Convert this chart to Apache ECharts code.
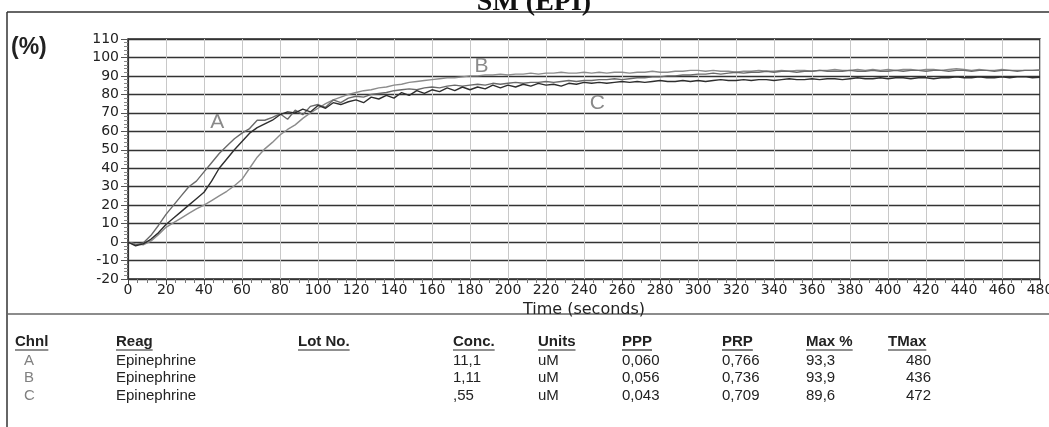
<!DOCTYPE html>
<html><head><meta charset="utf-8">
<script src="https://cdn.jsdelivr.net/npm/echarts@6/dist/echarts.min.js"></script>
<style>html,body{margin:0;padding:0;background:#fff}#c{width:1049px;height:427px}</style>
</head><body><div id="c"></div>
<script>
// ---- data ----
const chartTitle = 'SM (EPI)';
const yUnitLabel = '(%)';
const xAxisTitle = 'Time (seconds)';
const sampleStep = 4; // seconds between samples (t = 0, 4, 8 ... 480)

const chA = [
  0, -1.5, -0.5, 3.5, 9, 15, 20, 25, 30, 33,
  38, 43, 48, 52, 56, 59, 61.5, 66, 66, 67.5,
  69.5, 66.5, 71.5, 69, 73.5, 74.5, 73, 77, 75.5, 78,
  79, 78.5, 80, 80.5, 81, 82, 82.5, 83, 82.5, 83.5,
  84, 83.5, 84.5, 85, 84.5, 85, 85.5, 85, 86, 85.5,
  86, 86.5, 86, 86.5, 86.5, 87, 86.5, 87, 87.5, 87,
  87.5, 87.5, 88, 88, 88.5, 88, 88.5, 89, 89, 89.5,
  89.5, 90, 90, 90.5, 90.5, 91, 91, 91.5, 91, 91.5,
  92, 91.5, 92, 92, 92.5, 92, 92.5, 92.5, 92, 92.5,
  92.5, 93, 92.5, 92.5, 92.5, 93, 92.5, 92.5, 93, 92.5,
  92.5, 93, 92.5, 93, 93, 92.5, 93, 93, 92.5, 93,
  93, 92.5, 93, 93, 92.5, 93, 93, 92.5, 93, 93,
  93.3
];
const chB = [
  0, -1, -1.5, 0.5, 4, 8, 10.5, 13, 15.5, 18,
  20, 22.5, 25, 27.5, 30.5, 34, 40, 46, 50.5, 54,
  58, 61, 63.5, 67, 70, 72.5, 75, 77, 78.5, 80,
  81, 82, 82.5, 83.5, 84, 85, 85.5, 86.5, 87, 87.5,
  88, 88.5, 89, 89, 89.5, 90, 90, 90.5, 90.5, 91,
  90.5, 91, 91, 91.5, 91, 91.5, 91.5, 92, 91.5, 91.5,
  92, 91.5, 92, 91.5, 92, 92, 91.5, 92, 92, 92.5,
  92, 92, 92.5, 92.5, 93, 93, 92.5, 93, 92.5, 92.5,
  92, 92.5, 92.5, 93, 92.5, 92.5, 93, 92.5, 93, 93,
  92.5, 93, 93, 93.5, 93, 93, 93.5, 93, 93.5, 93,
  93.5, 93, 93.5, 93.5, 93, 93.5, 93.5, 93, 93.5, 93.9,
  93.5, 93, 93.5, 93, 93, 93.5, 93, 93, 93, 93,
  93
];
const chC = [
  0, -2, -1, 1.5, 5, 9.5, 13, 16.5, 20, 23.5,
  27, 33, 40, 45, 50, 54.5, 59, 62, 64, 66,
  69, 70.5, 70, 72, 70.5, 74, 72.5, 75.5, 74.5, 76,
  77, 75.5, 78.5, 77.5, 79.5, 78, 81, 79.5, 82, 80.5,
  82.5, 81.5, 83.5, 82, 84, 82.5, 84, 83, 85, 83.5,
  85, 84, 85.5, 84.5, 86, 85, 85.5, 84.5, 86, 85.5,
  86.5, 86, 86.5, 86, 86.5, 87, 86.5, 87, 86.5, 87,
  87.5, 87, 87, 87.5, 87, 87.5, 87, 87.5, 88, 87.5,
  87.5, 88, 87.5, 88, 88, 87.5, 88, 88.5, 88, 88,
  88.5, 88, 88.5, 88.5, 88, 88.5, 89, 88.5, 88.5, 89,
  88.5, 89, 89, 88.5, 89, 89, 88.5, 89, 89, 89.5,
  89, 89, 89.5, 89, 89, 89.5, 89, 89.5, 89.6, 89,
  89.3
];
// curve letter annotations: [time, percent]
const curveLabelAt = { A: [47, 65], B: [186, 95.3], C: [247, 75.3] };

// table
const tableHeaders = ['Chnl', 'Reag', 'Lot No.', 'Conc.', 'Units', 'PPP', 'PRP', 'Max %', 'TMax'];
const chnl = ['A', 'B', 'C'];
const reag = ['Epinephrine', 'Epinephrine', 'Epinephrine'];
const lotNo = ['', '', ''];
const conc = ['11,1', '1,11', ',55'];
const units = ['uM', 'uM', 'uM'];
const ppp = ['0,060', '0,056', '0,043'];
const prp = ['0,766', '0,736', '0,709'];
const maxPct = ['93,3', '93,9', '89,6'];
const tMax = ['480', '436', '472'];

// ---- build ----
const toPairs = arr => arr.map((v, i) => [i * sampleStep, v]);
const colA = '#6a6a6a', colB = '#8c8c8c', colC = '#2e2e2e';

const measure = (() => {
  const c = document.createElement('canvas').getContext('2d');
  return (txt, font) => { c.font = font; return c.measureText(txt).width; };
})();

const graphics = [];
graphics.push({ type: 'line', shape: { x1: 7, y1: 12, x2: 1049, y2: 12 }, style: { stroke: '#333', lineWidth: 1.5 } });
graphics.push({ type: 'line', shape: { x1: 7, y1: 12, x2: 7, y2: 427 }, style: { stroke: '#333', lineWidth: 1.5 } });
graphics.push({ type: 'line', shape: { x1: 7, y1: 314, x2: 1049, y2: 314 }, style: { stroke: '#666', lineWidth: 1.5 } });
graphics.push({ type: 'text', style: { text: chartTitle, x: 534, y: 17, align: 'center', verticalAlign: 'bottom',
  font: 'bold 28px "Liberation Serif"', fill: '#111' } });
graphics.push({ type: 'text', style: { text: yUnitLabel, x: 11, y: 48, align: 'left', verticalAlign: 'middle',
  font: 'bold 23px "Liberation Sans"', fill: '#222' } });

const colX = [15, 116, 298, 453, 538, 622, 722, 806, 888];
const headerY = 342;
const rowY = [361, 378, 396];
const hFont = 'bold 15px "Liberation Sans"';
const rFont = '15px "Liberation Sans"';
tableHeaders.forEach((h, i) => {
  graphics.push({ type: 'text', style: { text: h, x: colX[i], y: headerY, verticalAlign: 'middle', font: hFont, fill: '#222' } });
  const w = measure(h, hFont);
  graphics.push({ type: 'line', shape: { x1: colX[i], y1: headerY + 8, x2: colX[i] + w, y2: headerY + 8 }, style: { stroke: '#222', lineWidth: 1.2 } });
});
const tmaxRight = 931;
for (let r = 0; r < chnl.length; r++) {
  const y = rowY[r];
  const cells = [
    [chnl[r], 24, 'left', '#808080'],
    [reag[r], colX[1], 'left', '#222'],
    [lotNo[r], colX[2], 'left', '#222'],
    [conc[r], colX[3], 'left', '#222'],
    [units[r], colX[4], 'left', '#222'],
    [ppp[r], colX[5], 'left', '#222'],
    [prp[r], colX[6], 'left', '#222'],
    [maxPct[r], colX[7], 'left', '#222'],
    [tMax[r], tmaxRight, 'right', '#222']
  ];
  cells.forEach(([t, x, al, col]) => {
    if (!t) return;
    graphics.push({ type: 'text', style: { text: t, x: x, y: y, align: al, verticalAlign: 'middle', font: rFont, fill: col } });
  });
}

const mkLabel = (name) => ({
  symbol: 'circle', symbolSize: 1, silent: true,
  itemStyle: { color: 'rgba(0,0,0,0)' },
  label: { show: true, position: 'inside', formatter: name, color: '#8a8a8a', fontSize: 21, fontFamily: 'Liberation Sans' },
  data: [{ coord: curveLabelAt[name] }]
});

const option = {
  animation: false,
  backgroundColor: '#fff',
  grid: { left: 128, right: 9, top: 39, bottom: 148, show: true, borderColor: '#2a2a2a', borderWidth: 1.5,
          containLabel: false, outerBoundsMode: 'none' },
  xAxis: {
    type: 'value', min: 0, max: 480, interval: 20,
    name: xAxisTitle, nameLocation: 'middle', nameGap: 13,
    nameTextStyle: { fontSize: 16, color: '#222', fontFamily: 'DejaVu Sans' },
    axisLine: { show: true, onZero: false, lineStyle: { color: '#333', width: 1.2 } },
    axisTick: { show: true, length: 6, lineStyle: { color: '#444' } },
    minorTick: { show: true, splitNumber: 4, length: 4, lineStyle: { color: '#777' } },
    splitLine: { show: true, lineStyle: { color: '#c8c8c8', width: 1 } },
    axisLabel: { fontSize: 14, color: '#222', margin: 4, fontFamily: 'DejaVu Sans' }
  },
  yAxis: {
    type: 'value', min: -20, max: 110, interval: 10,
    axisLine: { show: true, lineStyle: { color: '#333', width: 1.2 } },
    axisTick: { show: true, length: 7, lineStyle: { color: '#555' } },
    minorTick: { show: true, splitNumber: 5, length: 4, lineStyle: { color: '#888' } },
    splitLine: { show: true, lineStyle: { color: '#333', width: 1.3 } },
    axisLabel: { fontSize: 14, color: '#222', margin: 9, fontFamily: 'DejaVu Sans' }
  },
  series: [
    { name: 'B', type: 'line', data: toPairs(chB), showSymbol: false, symbol: 'none', lineStyle: { color: colB, width: 1.4 }, markPoint: mkLabel('B'), z: 3 },
    { name: 'A', type: 'line', data: toPairs(chA), showSymbol: false, symbol: 'none', lineStyle: { color: colA, width: 1.4 }, markPoint: mkLabel('A'), z: 4 },
    { name: 'C', type: 'line', data: toPairs(chC), showSymbol: false, symbol: 'none', lineStyle: { color: colC, width: 1.4 }, markPoint: mkLabel('C'), z: 5 }
  ],
  graphic: graphics
};
const chart = echarts.init(document.getElementById('c'), null, { renderer: 'canvas' });
chart.setOption(option);
</script>
</body></html>
